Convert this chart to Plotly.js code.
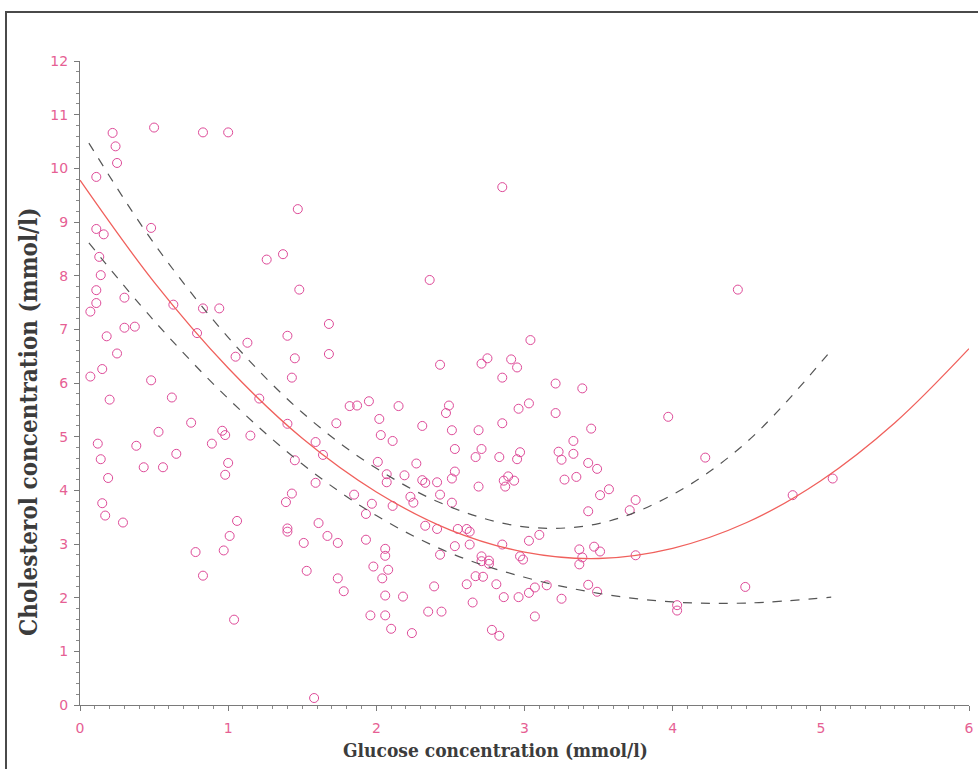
<!DOCTYPE html>
<html>
<head>
<meta charset="utf-8">
<script src="https://cdn.plot.ly/plotly-3.0.1.min.js"></script>
<style>
html,body{margin:0;padding:0;background:#fff;overflow:hidden;}
#wrap{position:relative;width:978px;height:769px;overflow:hidden;}
#chart{position:absolute;left:0;top:0;width:978px;height:769px;}
#frame{position:absolute;left:5px;top:11px;width:990px;height:800px;
  border-top:2px solid #4a4a4a;border-left:2px solid #4a4a4a;pointer-events:none;box-sizing:border-box;}
</style>
</head>
<body>
<div id="wrap">
<div id="chart"></div>
<div id="frame"></div>
</div>
<script>
// Observed points: glucose (x) and cholesterol (y), mmol/l
var glucose = [
 0.22,0.24,0.25,0.50,0.83,1.00,0.11,0.11,0.16,0.48,1.47,0.13,1.26,1.37,
 0.14,0.11,0.11,0.07,0.30,0.30,0.37,0.18,0.25,0.15,0.07,0.20,0.48,0.62,0.63,0.79,
 0.83,0.94,1.48,1.13,1.05,1.40,1.45,1.43,1.21,1.40,1.59,1.45,1.59,0.75,0.53,0.96,
 0.98,1.15,0.89,0.38,0.65,0.12,0.14,0.43,0.56,1.00,0.98,0.19,
 0.15,0.17,0.29,0.78,0.83,0.97,1.01,1.06,1.04,1.39,1.43,1.40,1.40,1.51,1.53,1.58,
 2.36,1.68,1.68,3.04,2.43,2.71,2.75,2.91,2.95,2.85,1.82,1.87,1.95,2.15,2.49,2.47,
 3.03,2.96,2.85,1.73,2.02,2.03,2.11,2.31,2.51,2.69,2.53,2.71,2.67,2.83,2.97,2.95,
 1.64,2.01,2.27,2.07,2.07,2.19,2.31,2.33,2.41,2.53,2.51,2.69,2.86,2.89,2.93,2.87,
 1.85,1.97,1.93,2.11,2.23,2.25,2.43,2.51,1.61,1.67,1.74,1.93,2.06,2.06,1.98,2.08,
 2.04,1.74,1.78,2.06,2.18,1.96,2.06,2.10,2.24,2.33,2.41,2.55,2.61,2.63,2.53,2.63,
 2.43,2.71,2.71,2.76,2.76,2.85,2.97,2.99,3.03,3.10,2.67,2.72,2.61,2.39,2.81,2.65,
 2.86,2.96,3.03,3.07,3.07,2.35,2.44,2.78,2.83,
 3.21,3.39,3.21,3.97,3.45,3.33,3.23,3.25,3.33,3.43,3.49,3.27,3.35,4.22,3.57,3.51,
 3.75,3.71,3.43,3.37,3.47,3.51,3.39,3.37,3.75,3.15,3.25,3.43,3.49,4.03,4.03,4.49,
 4.44,4.81,5.08,2.85
];
var cholesterol = [
 10.66,10.41,10.10,10.76,10.67,10.67,9.84,8.87,8.77,8.89,9.24,8.35,8.30,8.40,
 8.01,7.73,7.49,7.33,7.59,7.03,7.05,6.87,6.55,6.26,6.12,5.69,6.05,5.73,7.46,6.93,
 7.39,7.39,7.74,6.75,6.49,6.88,6.46,6.10,5.71,5.24,4.90,4.56,4.14,5.26,5.09,5.11,
 5.03,5.02,4.87,4.83,4.68,4.87,4.58,4.43,4.43,4.51,4.29,4.23,
 3.76,3.53,3.40,2.85,2.41,2.88,3.15,3.43,1.59,3.78,3.94,3.29,3.23,3.02,2.50,0.13,
 7.92,7.10,6.54,6.80,6.34,6.36,6.46,6.44,6.29,6.10,5.57,5.58,5.66,5.57,5.58,5.44,
 5.62,5.52,5.25,5.25,5.33,5.03,4.92,5.20,5.12,5.12,4.77,4.77,4.62,4.62,4.71,4.58,
 4.66,4.53,4.50,4.30,4.15,4.28,4.19,4.14,4.15,4.35,4.22,4.07,4.18,4.26,4.18,4.07,
 3.92,3.75,3.56,3.71,3.88,3.77,3.92,3.77,3.39,3.15,3.02,3.08,2.91,2.78,2.58,2.52,
 2.36,2.36,2.12,2.04,2.02,1.67,1.67,1.42,1.34,3.34,3.28,3.28,3.28,3.23,2.96,2.99,
 2.80,2.77,2.68,2.69,2.63,2.99,2.77,2.71,3.06,3.17,2.40,2.39,2.25,2.21,2.25,1.91,
 2.01,2.01,2.09,2.19,1.65,1.74,1.74,1.40,1.29,
 5.99,5.90,5.44,5.37,5.15,4.92,4.72,4.57,4.68,4.51,4.40,4.20,4.25,4.61,4.02,3.91,
 3.82,3.63,3.61,2.90,2.95,2.86,2.75,2.62,2.79,2.23,1.98,2.24,2.11,1.86,1.76,2.20,
 7.74,3.91,4.22,9.65
];

// Fitted curve
var fitX = [0, 0.5, 1, 1.5, 2, 2.5, 3, 3.5, 4, 4.5, 5, 5.5, 6];
var fitY = [9.78, 7.88, 6.28, 4.97, 3.97, 3.26, 2.85, 2.73, 2.92, 3.40, 4.18, 5.26, 6.64];

// Confidence band (dashed)
var bandX = [0.06, 0.5, 1, 1.5, 2, 2.5, 3, 3.5, 4, 4.5, 5.07];
var bandUpper = [10.47, 8.60, 6.85, 5.45, 4.41, 3.69, 3.32, 3.38, 3.92, 4.90, 6.61];
var bandLower = [8.61, 7.16, 5.71, 4.49, 3.53, 2.83, 2.38, 2.08, 1.92, 1.90, 2.01];

var xTickVals = [0, 1, 2, 3, 4, 5, 6];
var yTickVals = [0, 1, 2, 3, 4, 5, 6, 7, 8, 9, 10, 11, 12];

var xTitle = 'Glucose concentration (mmol/l)';
var yTitle = 'Cholesterol concentration (mmol/l)';

var pink = '#de4a98';
var tickFont = {family: 'DejaVu Sans, Verdana, sans-serif', size: 14, color: '#e65f94'};
var titleFont = {family: 'DejaVu Serif Condensed, DejaVu Serif, serif', color: '#3c3c3c', weight: 'bold'};

var traces = [
  {x: glucose, y: cholesterol, type: 'scatter', mode: 'markers',
   marker: {symbol: 'circle-open', size: 9, color: pink, line: {width: 1, color: pink}},
   hoverinfo: 'x+y', showlegend: false},
  {x: bandX, y: bandUpper, type: 'scatter', mode: 'lines',
   line: {color: '#555555', width: 1.2, dash: 'dash', shape: 'spline'}, showlegend: false},
  {x: bandX, y: bandLower, type: 'scatter', mode: 'lines',
   line: {color: '#555555', width: 1.2, dash: 'dash', shape: 'spline'}, showlegend: false},
  {x: fitX, y: fitY, type: 'scatter', mode: 'lines',
   line: {color: '#f0605c', width: 1.3, shape: 'spline'}, showlegend: false}
];

var axisCommon = {
  showgrid: false, zeroline: false, showline: true, linecolor: '#7a7a7a', linewidth: 1,
  ticks: 'outside', ticklen: 5, tickcolor: '#7a7a7a', tickwidth: 1,
  tickfont: tickFont
};

var layout = {
  width: 978, height: 769,
  margin: {l: 80, r: 9, t: 61, b: 64},
  paper_bgcolor: '#ffffff', plot_bgcolor: '#ffffff',
  xaxis: Object.assign({}, axisCommon, {
    range: [0, 6], tickvals: xTickVals, ticktext: xTickVals.map(String),
    minor: {dtick: 0.1, ticks: 'outside', ticklen: 3, tickcolor: '#8a8a8a', tickwidth: 1},
    ticklabelstandoff: 5
  }),
  yaxis: Object.assign({}, axisCommon, {
    range: [0, 12], tickvals: yTickVals, ticktext: yTickVals.map(String),
    minor: {dtick: 0.2, ticks: 'outside', ticklen: 3, tickcolor: '#8a8a8a', tickwidth: 1},
    ticklabelstandoff: 3
  }),
  annotations: [
    {text: xTitle, xref: 'paper', yref: 'paper', x: (495 - 80) / 889, y: (705 - 750) / 644,
     xanchor: 'center', yanchor: 'middle', showarrow: false,
     font: Object.assign({size: 19}, titleFont)},
    {text: yTitle, xref: 'paper', yref: 'paper', x: (29 - 80) / 889, y: (705 - 422) / 644,
     xanchor: 'center', yanchor: 'middle', showarrow: false, textangle: -90,
     font: Object.assign({size: 24}, titleFont)}
  ]
};

Plotly.newPlot('chart', traces, layout, {staticPlot: true, displayModeBar: false});
</script>
</body>
</html>
